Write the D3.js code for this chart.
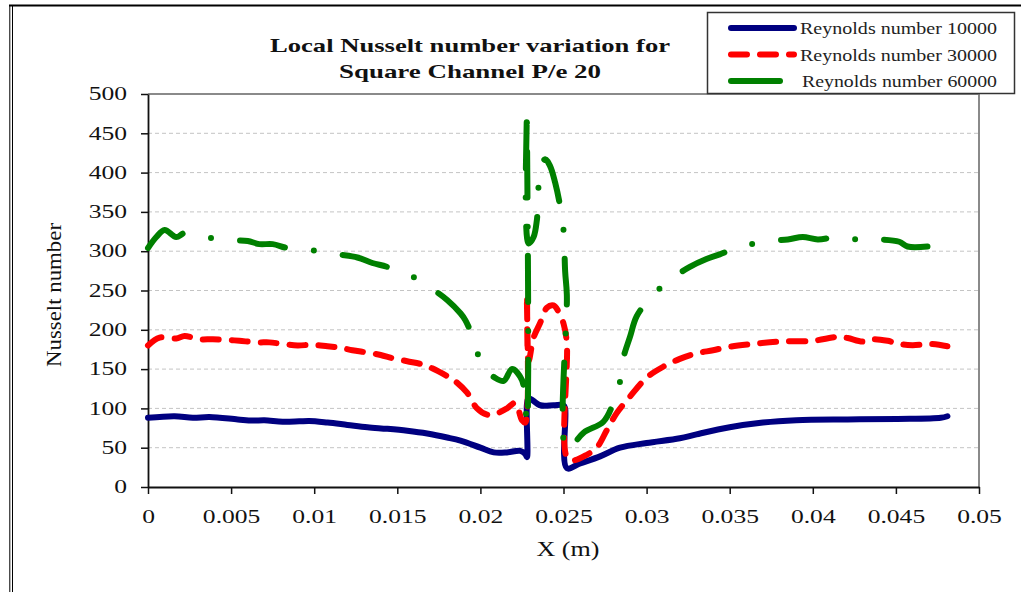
<!DOCTYPE html>
<html><head><meta charset="utf-8">
<script src="https://cdn.jsdelivr.net/npm/d3@7"></script>
<style>html,body{margin:0;padding:0;background:#fff;}svg{display:block;}</style>
</head><body>
<svg id="c" width="1021" height="592"></svg>
<script>
// ---------- DATA ----------
const chartTitle = ["Local Nusselt number variation for", "Square Channel P/e 20"];
const seriesNames = ["Reynolds number 10000", "Reynolds number 30000", "Reynolds number 60000"];
const xTicks = [0, 0.005, 0.01, 0.015, 0.02, 0.025, 0.03, 0.035, 0.04, 0.045, 0.05];
const xTickLabels = ["0", "0.005", "0.01", "0.015", "0.02", "0.025", "0.03", "0.035", "0.04", "0.045", "0.05"];
const yTicks = [0, 50, 100, 150, 200, 250, 300, 350, 400, 450, 500];
const xLabel = "X (m)";
const yLabel = "Nusselt number";

// [x (m), Nusselt number]
const re10000 = [
  [0,88],[0.0016,90],[0.0027,88],[0.0037,89],[0.0054,86],[0.0063,84.5],[0.007,85],[0.0081,83],
  [0.0091,83.5],[0.0097,84],[0.0108,82],[0.012,79],[0.0132,76],[0.0144,74],[0.0156,71.5],
  [0.0168,68],[0.018,63],[0.0188,59],[0.02,50],[0.0208,44],[0.0216,44],[0.0224,46],[0.0227,42],
  [0.0228,38],[0.0228,105],[0.0229,113],[0.0236,104],[0.0244,104],[0.025,104],[0.0251,100],
  [0.0252,24],[0.026,30],[0.0272,39],[0.0284,50],[0.03,56],[0.032,62],[0.033,67],[0.035,76],
  [0.037,82],[0.039,85],[0.0421,86],[0.0451,86.5],[0.0477,88],[0.0481,90]
];
const re30000 = [
  [0,180],[0.0007,190],[0.0017,189],[0.0022,192],[0.0031,188],[0.0039,188],[0.0049,187],[0.0055,186],
  [0.0066,184],[0.0073,184],[0.0081,182],[0.009,180],[0.0099,181],[0.0108,179],[0.0116,177],
  [0.0123,174],[0.0132,171],[0.014,168],[0.0147,164],[0.0156,160],[0.0165,156],[0.0171,151],
  [0.018,141],[0.0184,136],[0.0192,120],[0.0198,100],[0.0204,92],[0.0208,92],[0.0216,100],
  [0.0221,107],[0.0225,85],[0.0227,82],[0.0228,244],[0.0229,160],[0.0232,190],[0.0236,209],
  [0.024,228],[0.0244,231],[0.0247,223],[0.025,208],[0.0252,183],[0.0252,38],[0.0256,34],
  [0.0264,41],[0.027,50],[0.0276,72],[0.0282,94],[0.029,115],[0.03,139],[0.031,153],[0.032,163],
  [0.033,170],[0.034,174],[0.035,178.5],[0.0364,182],[0.038,185],[0.04,186],[0.0415,191],
  [0.0421,189.5],[0.043,185],[0.0436,188],[0.0445,186],[0.0452,182],[0.046,180.5],[0.0471,182],[0.0481,179]
];
const re60000 = [
  [0,304],[0.0005,318],[0.001,327],[0.0017,318],[0.0022,323],[0.0037,317],[0.0052,314],[0.006,313],
  [0.0067,309],[0.0075,309],[0.0084,304],[0.0099,301],[0.0114,296],[0.0126,292],[0.0135,285],
  [0.0144,280],[0.0159,268],[0.0171,252],[0.018,238],[0.0188,221],[0.0191,212],[0.0197,182],
  [0.0201,152],[0.0208,140],[0.0214,135],[0.0219,150],[0.0225,136],[0.0228,80],[0.0228,482],
  [0.0229,310],[0.0232,318],[0.0234,340],[0.0236,403],[0.0239,417],[0.0242,408],[0.0245,387],
  [0.0248,357],[0.025,327],[0.0251,274],[0.0252,245],[0.0252,47],[0.0262,69],[0.0274,83],
  [0.028,107],[0.0284,134],[0.0286,164],[0.029,191],[0.0294,217],[0.0302,240],[0.0313,262],
  [0.0326,280],[0.0336,290],[0.0344,296],[0.0354,304],[0.037,312],[0.0385,315],[0.0394,318],
  [0.0403,315],[0.0415,318],[0.0427,315],[0.044,315],[0.0452,312],[0.0457,306],[0.0469,306]
];

// ---------- STYLE / LAYOUT ----------
const FONT = "'Liberation Serif','Times New Roman',serif";
const SX = 1.42; // horizontal stretch of glyphs in the reference
const colors = ["#000080", "#ff0000", "#008000"];
const dashes = [null, "16 13", "46 29 0 29"];
const svg = d3.select("#c");

const x = d3.scaleLinear().domain([0, 0.05]).range([148, 979]);
const y = d3.scaleLinear().domain([0, 500]).range([487, 94]);

function stretchBy(sel, f) {
  sel.each(function () {
    const w = this.getComputedTextLength();
    d3.select(this).attr("textLength", w * f).attr("lengthAdjust", "spacingAndGlyphs");
  });
}
function stretchTo(sel, len) {
  sel.attr("textLength", len).attr("lengthAdjust", "spacingAndGlyphs");
}

// outer frame
svg.append("line").attr("x1", 9).attr("x2", 1021).attr("y1", 5.5).attr("y2", 5.5)
  .attr("stroke", "#000").attr("stroke-width", 2);
svg.append("line").attr("x1", 9.8).attr("x2", 9.8).attr("y1", 5).attr("y2", 592)
  .attr("stroke", "#000").attr("stroke-width", 1);
svg.append("line").attr("x1", 12.5).attr("x2", 12.5).attr("y1", 5).attr("y2", 592)
  .attr("stroke", "#000").attr("stroke-width", 1);

// gridlines
svg.append("g").selectAll("line").data(yTicks.filter(v => v > 0 && v < 500)).join("line")
  .attr("x1", x(0)).attr("x2", x(0.05))
  .attr("y1", d => y(d)).attr("y2", d => y(d))
  .attr("stroke", "#c4c4c4").attr("stroke-width", 1).attr("stroke-dasharray", "4 3");

// plot border top/right
svg.append("path")
  .attr("d", `M${x(0)},${y(500)}H${x(0.05)}V${y(0)}`)
  .attr("fill", "none").attr("stroke", "#8a8a8a").attr("stroke-width", 2);

// axes
const yAxis = svg.append("g").attr("transform", `translate(${x(0)},0)`)
  .call(d3.axisLeft(y).tickValues(yTicks).tickSize(7).tickSizeOuter(0).tickPadding(14));
const xAxis = svg.append("g").attr("transform", `translate(0,${y(0)})`)
  .call(d3.axisBottom(x).tickValues(xTicks).tickFormat((d, i) => xTickLabels[i])
    .tickSize(7).tickSizeOuter(0).tickPadding(16));
[yAxis, xAxis].forEach(a => {
  a.select(".domain").attr("stroke", "#111").attr("stroke-width", 1.8);
  a.selectAll(".tick line").attr("stroke", "#111").attr("stroke-width", 1.5);
  a.selectAll("text").attr("font-family", FONT).attr("font-size", 18).attr("fill", "#111");
  stretchBy(a.selectAll("text"), SX);
});

// series
const line = d3.line().x(d => x(d[0])).y(d => y(d[1])).curve(d3.curveCatmullRom.alpha(0.5));
const allSeries = [re10000, re30000, re60000];
svg.append("g").selectAll("path").data(allSeries).join("path")
  .attr("d", d => line(d))
  .attr("fill", "none")
  .attr("stroke", (d, i) => colors[i])
  .attr("stroke-width", 6)
  .attr("stroke-linecap", "round")
  .attr("stroke-linejoin", "round")
  .attr("stroke-dasharray", (d, i) => dashes[i]);

// axis titles
const yt = svg.append("text").attr("transform", "translate(61,295) rotate(-90)")
  .attr("text-anchor", "middle").attr("font-family", FONT).attr("font-size", 20).attr("fill", "#111")
  .text(yLabel);
stretchTo(yt, 144);
const xt = svg.append("text").attr("x", 568).attr("y", 556)
  .attr("text-anchor", "middle").attr("font-family", FONT).attr("font-size", 20).attr("fill", "#111")
  .text(xLabel);
stretchTo(xt, 63);

// title
const titleW = [400, 262];
chartTitle.forEach((t, i) => {
  const tt = svg.append("text").attr("x", 470).attr("y", 52 + i * 25.5)
    .attr("text-anchor", "middle").attr("font-family", FONT).attr("font-weight", "bold")
    .attr("font-size", 19).attr("fill", "#111").text(t);
  stretchTo(tt, titleW[i]);
});

// legend
const lg = svg.append("g");
lg.append("rect").attr("x", 707.5).attr("y", 12.5).attr("width", 307).attr("height", 81)
  .attr("fill", "#fff").attr("stroke", "#333").attr("stroke-width", 1.5);
const legY = [28, 54.5, 81];
const legX2 = [794, 794, 780];
const legTX = [800, 800, 802];
const legTW = [197, 197, 195];
seriesNames.forEach((name, i) => {
  lg.append("line").attr("x1", 731).attr("x2", legX2[i]).attr("y1", legY[i]).attr("y2", legY[i])
    .attr("stroke", colors[i]).attr("stroke-width", 6).attr("stroke-linecap", "round")
    .attr("stroke-dasharray", i === 1 ? dashes[1] : null);
  const t = lg.append("text").attr("x", legTX[i]).attr("y", legY[i] + 6)
    .attr("font-family", FONT).attr("font-size", 16).attr("fill", "#222").text(name);
  stretchTo(t, legTW[i]);
});
</script>
</body></html>
